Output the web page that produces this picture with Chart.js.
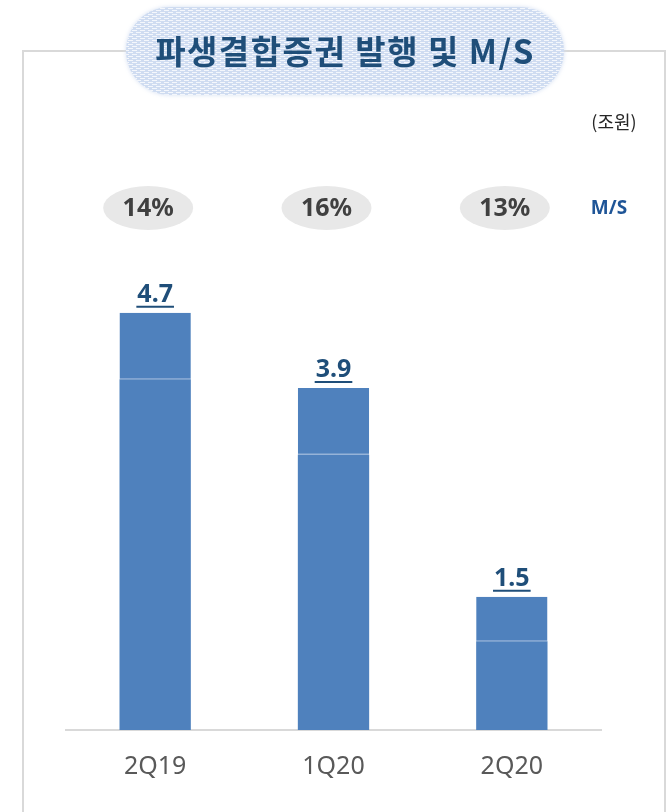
<!DOCTYPE html>
<html>
<head>
<meta charset="utf-8">
<script src="https://cdn.jsdelivr.net/npm/chart.js@4/dist/chart.umd.min.js"></script>
<style>
  html, body { margin: 0; padding: 0; background: #fff; }
  canvas { display: block; }
</style>
</head>
<body>
<canvas id="myChart" width="671" height="812"></canvas>
<script>
// chart data
var categories = ['2Q19', '1Q20', '2Q20'];
var lowerPart = [3.95, 3.1, 1.0];
var upperPart = [0.75, 0.75, 0.5];
var totalLabels = ['4.7', '3.9', '1.5'];
var marketShare = ['14%', '16%', '13%'];

var titleText = '파생결합증권 발행 및 M/S';
var unitText = '(조원)';
var msLabel = 'M/S';

var fontFamily = "'Noto Sans', 'Noto Sans CJK KR', sans-serif";
var krFamily = "'Noto Sans CJK KR', 'Noto Sans', sans-serif";

// dotted fill for the title pill
function makePattern(ctx) {
    var c = document.createElement('canvas');
    c.width = 8; c.height = 4;
    var p = c.getContext('2d');
    p.fillStyle = '#CFDCF1';
    p.fillRect(0, 0, 8, 4);
    p.fillStyle = '#F4F7FC';
    p.fillRect(0, 0, 5, 1);
    p.fillRect(4, 2, 4, 1);
    p.fillRect(0, 2, 1, 1);
    return ctx.createPattern(c, 'repeat');
}

function roundRect(ctx, x, y, w, h, r) {
    ctx.beginPath();
    ctx.moveTo(x + r, y);
    ctx.lineTo(x + w - r, y);
    ctx.arc(x + w - r, y + r, r, -Math.PI / 2, Math.PI / 2);
    ctx.lineTo(x + r, y + h);
    ctx.arc(x + r, y + r, r, Math.PI / 2, Math.PI * 1.5);
    ctx.closePath();
}

var decorPlugin = {
    id: 'decor',
    beforeDraw: function(chart) {
        var ctx = chart.ctx;
        ctx.save();
        ctx.fillStyle = '#fff';
        ctx.fillRect(0, 0, chart.width, chart.height);

        // frame
        ctx.strokeStyle = '#D9D9D9';
        ctx.lineWidth = 2;
        ctx.beginPath();
        ctx.moveTo(23, 812);
        ctx.lineTo(23, 51);
        ctx.lineTo(665, 51);
        ctx.lineTo(665, 812);
        ctx.stroke();

        // title pill (soft edge)
        ctx.save();
        ctx.shadowColor = 'rgba(207,220,241,0.9)';
        ctx.shadowBlur = 4;
        ctx.fillStyle = makePattern(ctx);
        roundRect(ctx, 126, 7, 438, 88, 44);
        ctx.fill();
        ctx.restore();
        ctx.fillStyle = '#1F4E79';
        ctx.font = 'bold 33px ' + krFamily;
        ctx.letterSpacing = '1.5px';
        ctx.textAlign = 'center';
        ctx.textBaseline = 'middle';
        ctx.fillText(titleText, 345, 51);
        ctx.letterSpacing = '0px';

        // unit
        ctx.fillStyle = '#262626';
        ctx.font = '18px ' + krFamily;
        ctx.fillText(unitText, 614, 122);

        // market share ellipses
        var xs = chart.scales.x;
        for (var i = 0; i < marketShare.length; i++) {
            var cx = xs.getPixelForValue(i) - 7;
            ctx.fillStyle = '#E8E8E8';
            ctx.beginPath();
            ctx.ellipse(cx, 208, 45, 22, 0, 0, Math.PI * 2);
            ctx.fill();
            ctx.fillStyle = '#404040';
            ctx.font = 'bold 25px ' + fontFamily;
            ctx.fillText(marketShare[i], cx, 209);
        }
        ctx.fillStyle = '#1F5597';
        ctx.font = 'bold 19px ' + fontFamily;
        ctx.fillText(msLabel, 609, 209);
        ctx.restore();
    },
    afterDatasetsDraw: function(chart) {
        var ctx = chart.ctx;
        var meta = chart.getDatasetMeta(1);
        ctx.save();
        ctx.fillStyle = '#1F4E79';
        ctx.strokeStyle = '#1F4E79';
        ctx.font = 'bold 25px ' + fontFamily;
        ctx.textAlign = 'center';
        ctx.textBaseline = 'middle';
        meta.data.forEach(function(bar, i) {
            var txt = totalLabels[i];
            ctx.fillText(txt, bar.x, bar.y - 18);
            var w = ctx.measureText(txt).width + 2;
            ctx.lineWidth = 2;
            ctx.beginPath();
            ctx.moveTo(bar.x - w / 2, bar.y - 6);
            ctx.lineTo(bar.x + w / 2, bar.y - 6);
            ctx.stroke();
        });
        ctx.restore();
    }
};

window.addEventListener('DOMContentLoaded', function() {
    var ctx = document.getElementById('myChart');
    new Chart(ctx, {
        type: 'bar',
        data: {
            labels: categories,
            datasets: [{
                data: lowerPart,
                backgroundColor: '#4F81BD',
                borderWidth: 0
            }, {
                data: upperPart,
                backgroundColor: '#4F81BD',
                borderColor: '#7098CC',
                borderWidth: { top: 0, right: 0, bottom: 1, left: 0 },
                borderSkipped: false
            }]
        },
        options: {
            responsive: false,
            animation: false,
            devicePixelRatio: 1,
            barPercentage: 0.4,
            categoryPercentage: 1,
            layout: { padding: { left: 66, right: 70, top: 286, bottom: 8 } },
            plugins: {
                legend: { display: false },
                tooltip: { enabled: false }
            },
            scales: {
                x: {
                    stacked: true,
                    grid: { display: false, drawTicks: false },
                    border: { display: true, color: '#D9D9D9', width: 2 },
                    ticks: {
                        color: '#595959',
                        padding: 22,
                        font: { size: 25, family: fontFamily }
                    }
                },
                y: {
                    stacked: true,
                    display: false,
                    min: 0,
                    max: 5
                }
            }
        },
        plugins: [decorPlugin]
    });
});
</script>
</body>
</html>
